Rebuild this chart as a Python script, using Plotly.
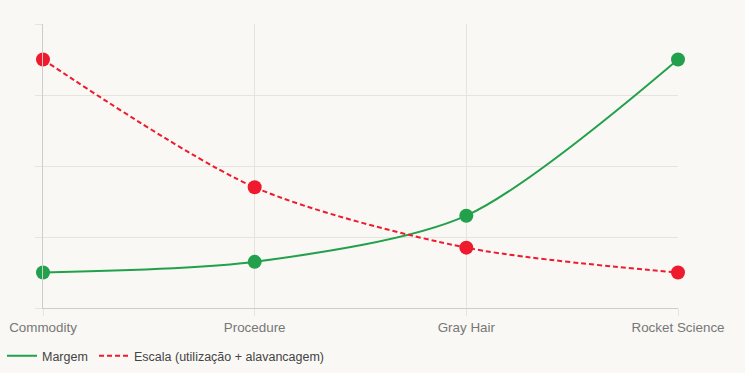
import plotly.graph_objects as go

categories = ["Commodity", "Procedure", "Gray Hair", "Rocket Science"]
margem = [1.0, 1.3, 2.6, 7.0]
escala = [7.0, 3.4, 1.7, 1.0]
y_ticks = [0, 2, 4, 6, 8]

GREEN = "#22a04b"
RED = "#ef1a2d"
BG = "#f9f8f4"
GRID = "#e6e4df"
AXIS = "#cfcdc8"

fig = go.Figure()
series = [("Margem", margem, GREEN, "solid", "legend"),
          ("Escala (utilização + alavancagem)", escala, RED, "5px,3px", "legend2")]
for name, vals, col, dash, leg in series:
    fig.add_trace(go.Scatter(
        x=categories, y=vals, name=name, mode="lines",
        line=dict(color=col, width=2, shape="spline", smoothing=0.8, dash=dash),
        legendgroup=name, legend=leg,
    ))
    fig.add_trace(go.Scatter(
        x=categories, y=vals, name=name, mode="markers", showlegend=False,
        marker=dict(color=col, size=14), legendgroup=name, cliponaxis=False,
    ))

leg_common = dict(orientation="h", xref="container", yref="container",
                  y=0.045, xanchor="left", yanchor="middle",
                  font=dict(size=12.5, color="#444"), bgcolor="rgba(0,0,0,0)")

fig.update_layout(
    width=745, height=373,
    margin=dict(l=43, r=67, t=24, b=65),
    paper_bgcolor=BG, plot_bgcolor=BG,
    font=dict(family="Liberation Sans, Arial, sans-serif", size=12, color="#444"),
    showlegend=True,
    legend=dict(x=2 / 745, **leg_common),
    legend2=dict(x=94 / 745, **leg_common),
    xaxis=dict(
        type="category", range=[0, 3], showgrid=True, gridcolor=GRID, gridwidth=1,
        showline=True, linecolor=AXIS, linewidth=1, automargin=False,
        ticks="outside", ticklen=7, tickcolor=GRID,
        tickfont=dict(size=13.4, color="#777"), zeroline=False,
    ),
    yaxis=dict(
        range=[0, 8], tickvals=y_ticks, showgrid=True, gridcolor=GRID, gridwidth=1,
        showline=True, linecolor=AXIS, linewidth=1, automargin=False,
        ticks="outside", ticklen=7, tickcolor=GRID,
        showticklabels=False, zeroline=False,
    ),
)

fig.write_html("out.html")
